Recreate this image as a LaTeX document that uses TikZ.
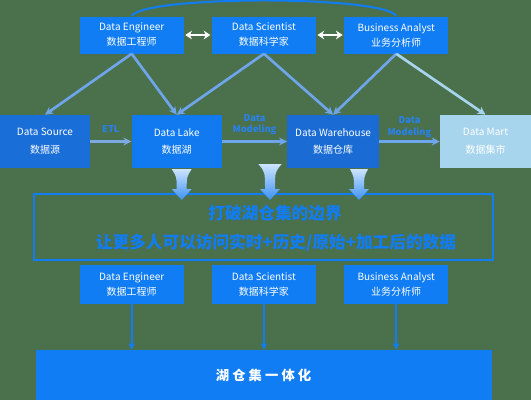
\documentclass[tikz,border=0pt]{standalone}
\usepackage{fontspec}
\setmainfont{Noto Sans CJK SC}
\usepackage{tikz}
\usetikzlibrary{arrows.meta, positioning}
\definecolor{bggreen}{RGB}{74,112,76}
\definecolor{lhblue}{RGB}{17,125,245}
\definecolor{srcblue}{RGB}{26,110,215}
\definecolor{lakeblue}{RGB}{18,122,240}
\definecolor{dwblue}{RGB}{26,108,212}
\definecolor{martblue}{RGB}{168,213,238}
\definecolor{linkblue}{RGB}{110,165,235}
\definecolor{etlblue}{RGB}{125,170,225}
\definecolor{labelblue}{RGB}{40,130,238}
\definecolor{funtop}{RGB}{205,228,255}
\definecolor{funbot}{RGB}{60,145,245}

\begin{document}
\begin{tikzpicture}[x=0.75pt, y=-0.75pt,
    role/.style={rectangle, fill=lhblue, text=white, inner sep=0pt, minimum width=78pt, minimum height=27.75pt, align=center, font=\fontsize{7.5}{11.25}\selectfont},
    store/.style={rectangle, fill=#1, text=white, inner sep=0pt, minimum width=67.5pt, minimum height=39.75pt, align=center, font=\fontsize{7.5}{13.3}\selectfont},
    link/.style={draw=linkblue, line width=2pt, -{Stealth[length=6pt, width=6pt]}},
    flow/.style={draw=#1, line width=2pt, -{Stealth[length=6pt, width=6pt]}},
    dblarrow/.style={draw=white, line width=2pt, {Stealth[length=5pt, width=6.5pt]}-{Stealth[length=5pt, width=6.5pt]}, shorten <=1pt, shorten >=1pt},
    tag/.style={text=labelblue, font=\fontsize{7}{8.5}\selectfont\bfseries, align=center, inner sep=1pt},
    slogan/.style={text=lhblue, font=\fontsize{12.5}{13}\selectfont\bfseries},
    drop/.style={draw=lhblue, line width=1.5pt, -{Stealth[length=5pt, width=5pt]}}
]
    \fill[bggreen] (0,0) rectangle (531,400);
    \useasboundingbox (0,0) rectangle (531,400);

    % Roles (top)
    \node (de) [role] at (131.7,35) {Data Engineer\\数据工程师};
    \node (ds) [role, right=20.8pt of de] {Data Scientist\\数据科学家};
    \node (ba) [role, right=20.8pt of ds] {Business Analyst\\业务分析师};

    % Storage layers
    \node (src) [store=srcblue] at (45,141.5) {Data Source\\数据源};
    \node (lake) [store=lakeblue] at (176.7,141.5) {Data Lake\\数据湖};
    \node (dw) [store=dwblue, minimum width=68.75pt] at (333.1,141.5) {Data Warehouse\\数据仓库};
    \node (mart) [store=martblue, minimum width=68.25pt] at (485.5,141.5) {Data Mart\\数据集市};

    % Frame with slogan
    \node (frame) [draw=lhblue, line width=1.5pt, minimum width=344pt, minimum height=49.5pt, inner sep=0pt] at (263.3,227.4) {};
    \node (motto) [slogan] at (275,212.8) {打破湖仓集的边界};
    \node (goal) [slogan] at (276,242.6) {让更多人可以访问实时+历史/原始+加工后的数据};

    % Roles (bottom)
    \node (de2) [role, minimum height=28.7pt] at (131.7,284.5) {Data Engineer\\数据工程师};
    \node (ds2) [role, minimum height=28.7pt, right=20.8pt of de2] {Data Scientist\\数据科学家};
    \node (ba2) [role, minimum height=28.7pt, right=20.8pt of ds2] {Business Analyst\\业务分析师};

    \node (base) [fill=lhblue, text=white, minimum width=342pt, minimum height=37.5pt, inner sep=0pt, font=\fontsize{10}{12}\selectfont\bfseries] at (263.6,375) {湖 仓 集 一 体 化};

    % Arrows
    \draw [draw=lhblue, line width=1.5pt] (de.north) .. controls +(10,-21) and +(-10,-21) .. (ba.north);
    \draw [dblarrow] (de.east) -- (ds.west);
    \draw [dblarrow] (ds.east) -- (ba.west);
    \draw [link] (de.south) -- (src.north);
    \draw [link] (de.south) -- (lake.north);
    \draw [link] (ds.south) -- (lake.north);
    \draw [link] (ds.south) -- (dw.north);
    \draw [link] (ba.south) -- (dw.north);
    \draw [link, draw=martblue] (ba.south) -- (mart.north);

    \draw [flow=etlblue] (src.east) -- node[tag, above=5pt] {ETL} (lake.west);
    \draw [flow=linkblue] (lake.east) -- node[tag, above=3pt] {Data\\Modeling} (dw.west);
    \draw [flow=linkblue] (dw.east) -- node[tag, above=1pt] {Data\\Modeling} (mart.west);

    \foreach \fx/\ftop/\fw in {181.7/169/10, 270/164/11.7, 359/169/9}
        \shade[top color=funtop, bottom color=funbot] (\fx-\fw,\ftop) -- (\fx+\fw,\ftop) .. controls (\fx+5,\ftop+8) .. (\fx+5,189) -- (\fx+10,189) -- (\fx,200) -- (\fx-10,189) -- (\fx-5,189) .. controls (\fx-5,\ftop+8) .. (\fx-\fw,\ftop) -- cycle;

    \draw [drop] (de2.south) -- (de2.south |- base.north);
    \draw [drop] (ds2.south) -- (ds2.south |- base.north);
    \draw [drop] (ba2.south) -- (ba2.south |- base.north);
\end{tikzpicture}
\end{document}
